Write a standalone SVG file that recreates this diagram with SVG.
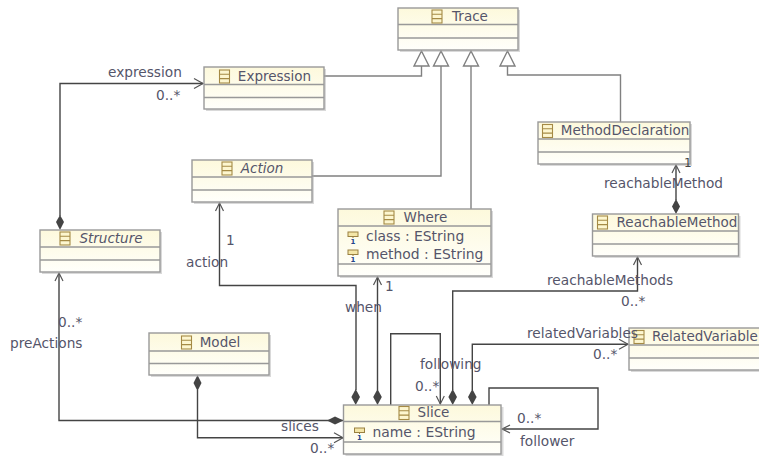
<svg xmlns="http://www.w3.org/2000/svg" width="759" height="457" viewBox="0 0 759 457">
<style>
text{font-family:"DejaVu Sans",Verdana,sans-serif;font-size:13.7px;fill:#55556a}
.t{text-anchor:middle;font-size:13.5px}
.i{font-style:italic}
.a{font-size:13.9px}
.b{fill:url(#g);stroke:#999;stroke-width:1.4}
.s{fill:#aaa;opacity:.45}
.d{fill:none;stroke:#999;stroke-width:1.4}
.c{fill:none;stroke:#444;stroke-width:1.4}
.h{fill:none;stroke:#808080;stroke-width:1.4}
.tri{fill:#fff;stroke:#808080;stroke-width:1.4}
.ar{fill:none;stroke:#555;stroke-width:1.2}
.dm{fill:#444;stroke:none}
.ic{fill:#fdf6cf;stroke:#a58a45;stroke-width:1.1}
.at{fill:#f4e6a8;stroke:#9a8040;stroke-width:1}
.one{font-size:7px;font-weight:bold;fill:#23458c;text-anchor:middle}
</style>
<defs>
<linearGradient id="g" x1="0" y1="0" x2="0" y2="1"><stop offset="0" stop-color="#fdf9dc"/><stop offset="1" stop-color="#fffffb"/></linearGradient>
<g id="icon"><rect class="ic" x="0" y="0" width="10" height="13"/><path class="ic" d="M0 4.3H10M0 8.6H10"/></g>
<g id="attr"><rect class="at" x="0" y="0" width="10" height="4.5"/><path d="M5 4.5V6" stroke="#9a8040"/><text class="one" x="5" y="12">1</text></g>
</defs>
<rect width="759" height="457" fill="#fff"/>

<g id="connectors">
<path class="h" d="M324 76H421.5V66"/>
<path class="h" d="M312 176H441V66"/>
<path class="h" d="M471 209V66"/>
<path class="h" d="M620.5 122V75H507.5V66"/>
<path class="tri" d="M421.5 51L414 66H429Z"/>
<path class="tri" d="M441 51L433.5 66H448.5Z"/>
<path class="tri" d="M471 51L463.5 66H478.5Z"/>
<path class="tri" d="M507.5 51L500 66H515Z"/>

<path class="c" d="M60 216V83.5H203"/>
<path class="ar" d="M194 78.5L203 83.5L194 88.5"/>
<path class="dm" d="M60 215L64 222L60 230L56 222Z"/>

<path class="c" d="M356 390V285.5H219.5V203"/>
<path class="ar" d="M215.500 211L219.500 203L223.500 211"/>
<path class="dm" d="M355.7 389L360 397L355.7 405L351.4 397Z"/>

<path class="c" d="M377.5 390V277"/>
<path class="ar" d="M373.500 285L377.500 277L381.500 285"/>
<path class="dm" d="M377.5 389L381.8 397L377.5 405L373.2 397Z"/>

<path class="c" d="M452.7 390V291H637.5V257"/>
<path class="ar" d="M633.500 265L637.500 257L641.500 265"/>
<path class="dm" d="M452.7 389L457 397L452.7 405L448.4 397Z"/>

<path class="c" d="M472.3 390V344.3H628"/>
<path class="ar" d="M619 339.3L628 344.3L619 349.3"/>
<path class="dm" d="M472.3 389L476.6 397L472.3 405L468 397Z"/>

<path class="c" d="M390.7 405V333.7H440.3V404"/>
<path class="ar" d="M436.300 396L440.300 404L444.300 396"/>

<path class="c" d="M489 405V388H598V429H502"/>
<path class="ar" d="M510 425L502 429L510 433"/>

<path class="c" d="M343 420.5H59V273"/>
<path class="ar" d="M55 281L59 273L63 281"/>
<path class="dm" d="M327 420.5L335 416.5L343.5 420.5L335 424.5Z"/>

<path class="c" d="M197.5 390V437.7H343"/>
<path class="ar" d="M334 432.7L343 437.7L334 442.7"/>
<path class="dm" d="M197.5 375L201.5 383L197.5 391L193.5 383Z"/>

<path class="c" d="M676 200V165"/>
<path class="ar" d="M672 173L676 165L680 173"/>
<path class="dm" d="M676 199L680 206.5L676 214L672 206.5Z"/>
</g>

<g id="Trace">
<rect class="s" x="400" y="10" width="120" height="42"/><rect class="b" x="398" y="8" width="120" height="42"/>
<path class="d" d="M398 24.5H518M398 38H518"/><use href="#icon" x="432" y="10"/><text class="t" x="470" y="21">Trace</text>
</g>
<g id="Expression">
<rect class="s" x="206" y="69" width="120" height="42"/><rect class="b" x="204" y="67" width="120" height="42"/>
<path class="d" d="M204 84.5H324M204 97.5H324"/><use href="#icon" x="219.500" y="70"/><text class="t" x="274.500" y="81">Expression</text>
</g>
<g id="Action">
<rect class="s" x="194" y="162" width="120" height="42"/><rect class="b" x="192" y="160" width="120" height="42"/>
<path class="d" d="M192 177H312M192 190H312"/><use href="#icon" x="222" y="162"/><text class="t i" x="262" y="173">Action</text>
</g>
<g id="MethodDeclaration">
<rect class="s" x="540" y="124" width="152" height="42"/><rect class="b" x="538" y="122" width="152" height="42"/>
<path class="d" d="M538 139H690M538 152H690"/><use href="#icon" x="542.500" y="124.500"/><text class="t" x="625" y="135">MethodDeclaration</text>
<text x="684" y="167" style="font-size:12px;fill:#444">1</text>
</g>
<g id="Where">
<rect class="s" x="340" y="211" width="153" height="67"/><rect class="b" x="338" y="209" width="153" height="67"/>
<path class="d" d="M338 226H491M338 264H491"/><use href="#icon" x="384" y="211"/><text class="t" x="425.500" y="222">Where</text>
<use href="#attr" x="348" y="232"/><text class="a" x="366" y="241">class : EString</text>
<use href="#attr" x="348" y="250"/><text class="a" x="366" y="259">method : EString</text>
</g>
<g id="ReachableMethod">
<rect class="s" x="594.500" y="216" width="146" height="42"/><rect class="b" x="592.500" y="214" width="146" height="42"/>
<path class="d" d="M592.500 231H738.500M592.500 244H738.500"/><use href="#icon" x="597.500" y="216"/><text class="t" x="677" y="227">ReachableMethod</text>
</g>
<g id="Structure">
<rect class="s" x="42" y="232" width="120" height="42"/><rect class="b" x="40" y="230" width="120" height="42"/>
<path class="d" d="M40 247H160M40 260H160"/><use href="#icon" x="60" y="232"/><text class="t i" x="111" y="243">Structure</text>
</g>
<g id="Model">
<rect class="s" x="151" y="335" width="120" height="42"/><rect class="b" x="149" y="333" width="120" height="42"/>
<path class="d" d="M149 351H269M149 363.500H269"/><use href="#icon" x="181.500" y="336"/><text class="t" x="220" y="347">Model</text>
</g>
<g id="RelatedVariable">
<rect class="s" x="631" y="330" width="132" height="42"/><rect class="b" x="629" y="328" width="132" height="42"/>
<path class="d" d="M629 345H761M629 358H761"/><use href="#icon" x="634" y="330.500"/><text x="652" y="341" style="font-size:13.5px">RelatedVariable</text>
</g>
<g id="Slice">
<rect class="s" x="345.500" y="407" width="158" height="49"/><rect class="b" x="343.500" y="405" width="157.500" height="49"/>
<path class="d" d="M343.500 421.500H501M343.500 442H501"/><use href="#icon" x="399" y="406.500"/><text class="t" x="433.500" y="417">Slice</text>
<use href="#attr" x="354.500" y="428"/><text class="a" x="372.500" y="437">name : EString</text>
</g>

<g id="labels">
<text x="108" y="77">expression</text>
<text x="156" y="100">0..*</text>
<text x="226" y="245">1</text>
<text x="186" y="267">action</text>
<text x="385" y="291">1</text>
<text x="345" y="312">when</text>
<text x="58" y="327">0..*</text>
<text x="10" y="348">preActions</text>
<text x="281" y="431">slices</text>
<text x="310" y="453">0..*</text>
<text x="604" y="188">reachableMethod</text>
<text x="547" y="285">reachableMethods</text>
<text x="621" y="306">0..*</text>
<text x="527" y="338">relatedVariables</text>
<text x="593" y="359">0..*</text>
<text x="420" y="369">following</text>
<text x="415" y="391">0..*</text>
<text x="517" y="423">0..*</text>
<text x="520" y="446">follower</text>
</g>
</svg>
